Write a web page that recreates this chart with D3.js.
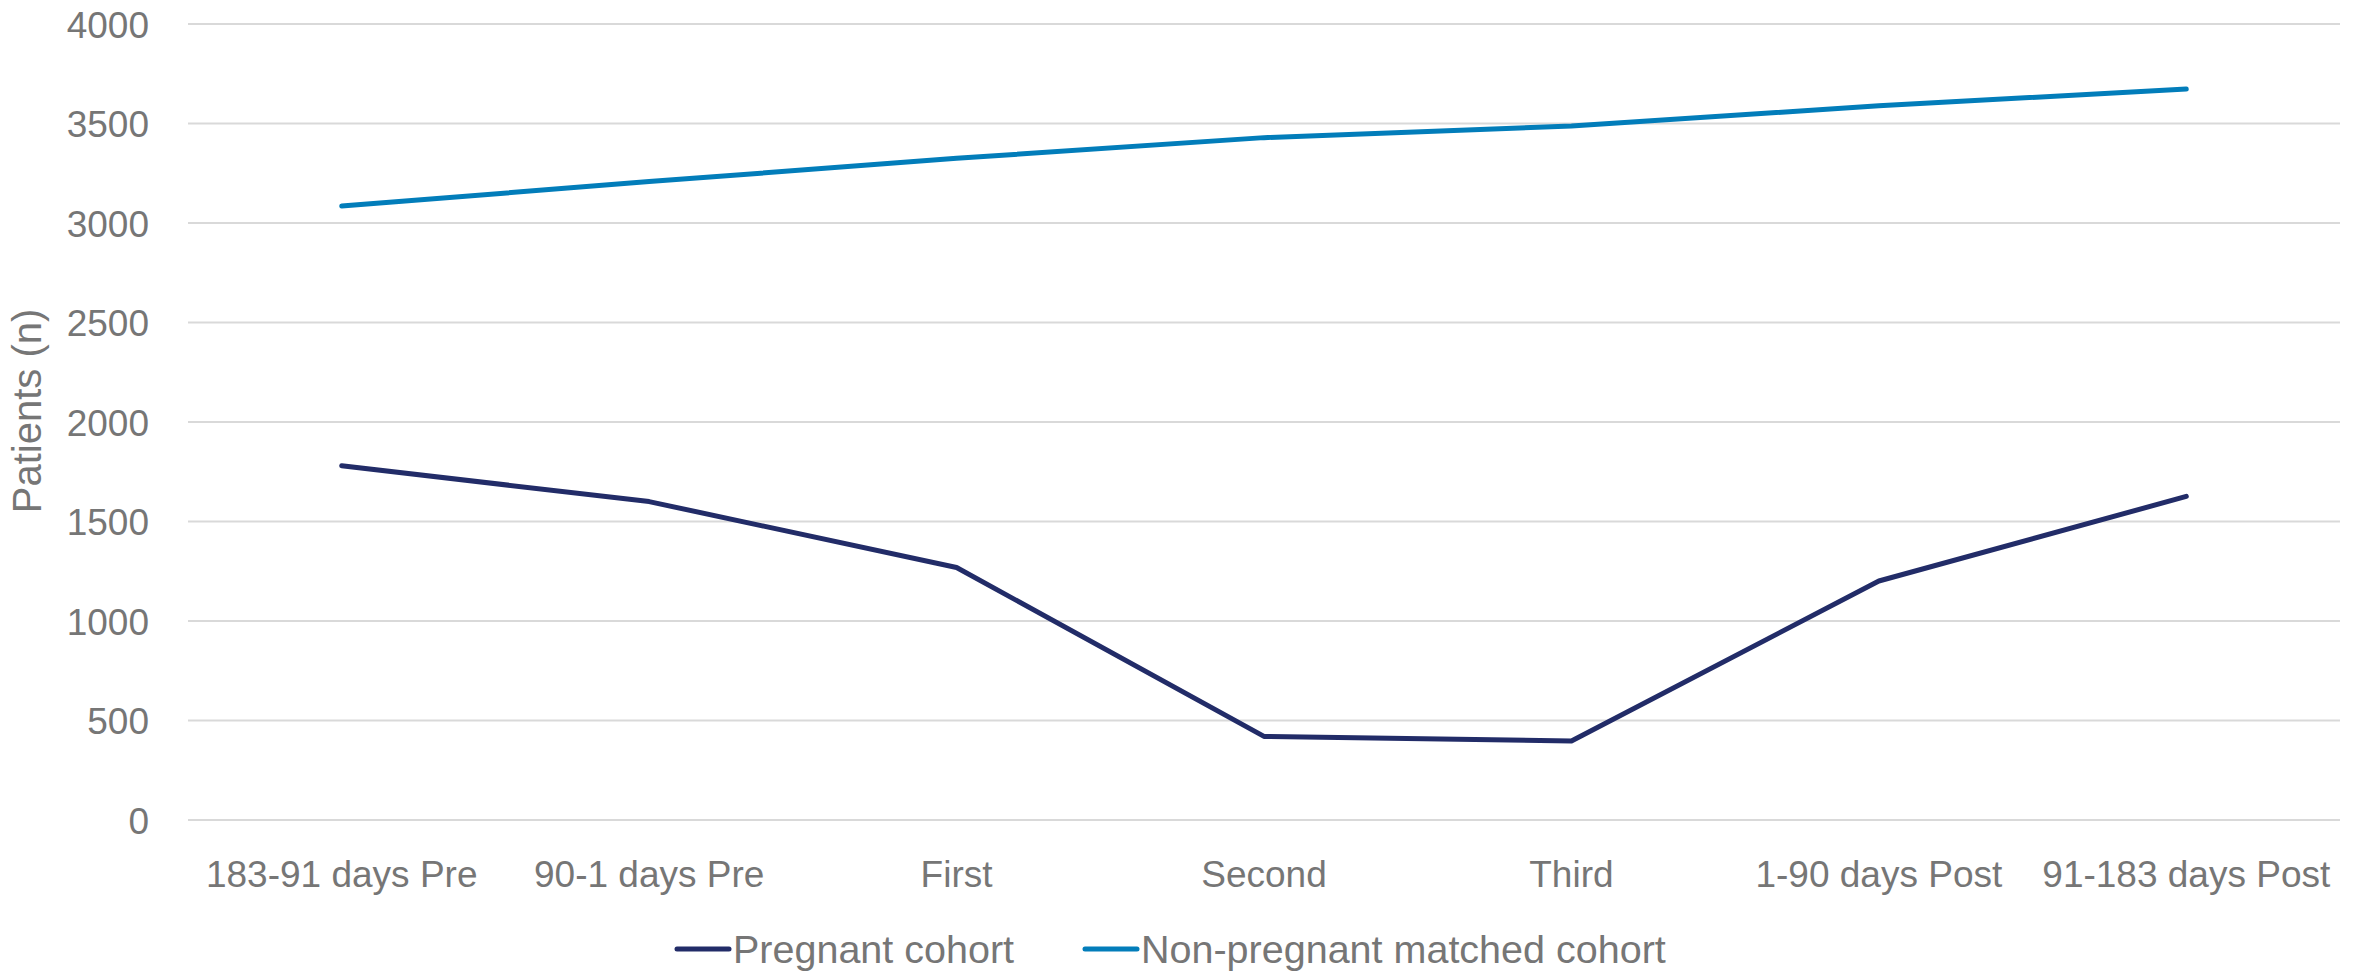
<!DOCTYPE html>
<html>
<head>
<meta charset="utf-8">
<script src="https://cdn.jsdelivr.net/npm/d3@7"></script>
<style>
  html, body { margin: 0; padding: 0; background: #ffffff; }
  svg { display: block; }
  text { font-family: "Liberation Sans", Arial, sans-serif; fill: #767676; }
</style>
</head>
<body>
<svg id="chart" width="2366" height="972"></svg>
<script>
// Time periods relative to pregnancy
const categories = ["183-91 days Pre", "90-1 days Pre", "First", "Second", "Third", "1-90 days Post", "91-183 days Post"];

// Patient counts per period
const pregnantCohort = [1780, 1600, 1269, 420, 397, 1201, 1626];
const nonPregnantCohort = [3085, 3208, 3325, 3429, 3487, 3589, 3673];

const seriesNames = ["Pregnant cohort", "Non-pregnant matched cohort"];
const seriesColors = ["#222C68", "#027DBA"];

const yTicks = [0, 500, 1000, 1500, 2000, 2500, 3000, 3500, 4000];
const yTitle = "Patients (n)";

const svg = d3.select("#chart");
const margin = { left: 188, right: 26, top: 24, bottom: 152 };
const width = 2366, height = 972;

const x = d3.scaleBand()
  .domain(categories)
  .range([margin.left, width - margin.right])
  .paddingInner(0).paddingOuter(0);

const y = d3.scaleLinear()
  .domain([0, 4000])
  .range([height - margin.bottom, margin.top]);

const cx = d => x(d) + x.bandwidth() / 2;

// Horizontal gridlines
svg.append("g")
  .selectAll("line")
  .data(yTicks)
  .join("line")
  .attr("x1", margin.left)
  .attr("x2", width - margin.right)
  .attr("y1", d => y(d))
  .attr("y2", d => y(d))
  .attr("stroke", "#D9D9D9")
  .attr("stroke-width", 2);

// Y axis tick labels
const yAxis = d3.axisLeft(y).tickValues(yTicks).tickFormat(d3.format("d")).tickSize(0).tickPadding(0);
const yG = svg.append("g")
  .attr("transform", `translate(${margin.left - 39},0)`)
  .call(yAxis);
yG.select(".domain").remove();
yG.selectAll("text")
  .attr("font-size", 37)
  .attr("font-family", "Liberation Sans, Arial, sans-serif")
  .attr("fill", "#767676")
  .attr("dy", "0.36em");

// X axis category labels
const xAxis = d3.axisBottom(x).tickSize(0).tickPadding(0);
const xG = svg.append("g")
  .attr("transform", `translate(0,${y(0)})`)
  .call(xAxis);
xG.select(".domain").remove();
xG.selectAll("text")
  .attr("font-size", 37)
  .attr("font-family", "Liberation Sans, Arial, sans-serif")
  .attr("fill", "#767676")
  .attr("y", 67)
  .attr("dy", 0);

// Y axis title
svg.append("text")
  .attr("transform", `translate(41,411) rotate(-90)`)
  .attr("text-anchor", "middle")
  .attr("font-size", 40)
  .text(yTitle);

// Series lines
const line = d3.line()
  .x((d, i) => cx(categories[i]))
  .y(d => y(d));

[pregnantCohort, nonPregnantCohort].forEach((vals, k) => {
  svg.append("path")
    .datum(vals)
    .attr("d", line)
    .attr("fill", "none")
    .attr("stroke", seriesColors[k])
    .attr("stroke-width", 5)
    .attr("stroke-linecap", "round")
    .attr("stroke-linejoin", "round");
});

// Legend
const legendY = 949;
const legendItems = [
  { name: seriesNames[0], color: seriesColors[0], x0: 677 },
  { name: seriesNames[1], color: seriesColors[1], x0: 1085 }
];
const lg = svg.append("g");
legendItems.forEach(it => {
  lg.append("line")
    .attr("x1", it.x0).attr("x2", it.x0 + 52)
    .attr("y1", legendY).attr("y2", legendY)
    .attr("stroke", it.color)
    .attr("stroke-width", 5)
    .attr("stroke-linecap", "round");
  lg.append("text")
    .attr("x", it.x0 + 56)
    .attr("y", legendY)
    .attr("dy", "0.36em")
    .attr("font-size", 39.5)
    .text(it.name);
});
</script>
</body>
</html>
